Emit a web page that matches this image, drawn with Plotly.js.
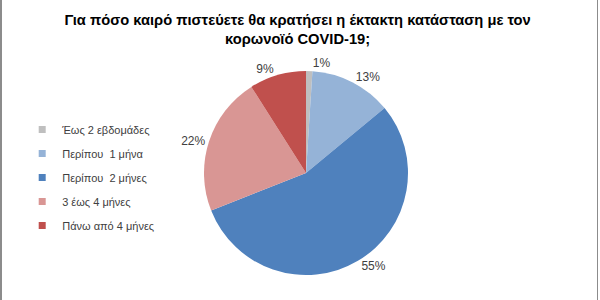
<!DOCTYPE html>
<html><head><meta charset="utf-8">
<script src="https://cdn.plot.ly/plotly-3.0.1.min.js"></script>
<style>
html,body{margin:0;padding:0;background:#fff;}
#wrap{position:relative;width:600px;height:300px;overflow:hidden;}
#chart{width:600px;height:300px;}
#bl{position:absolute;left:0;top:0;width:2px;height:300px;background:#8c8c8c;}
#br{position:absolute;left:597px;top:0;width:1px;height:300px;background:#8c8c8c;}
</style></head>
<body><div id="wrap"><div id="chart"></div><div id="bl"></div><div id="br"></div></div>
<script>
const titleText = "Για πόσο καιρό πιστεύετε θα κρατήσει η έκτακτη κατάσταση με τον<br>κορωνοϊό COVID-19;";
const labels = ["Έως 2 εβδομάδες", "Περίπου  1 μήνα", "Περίπου  2 μήνες", "3 έως 4 μήνες", "Πάνω από 4 μήνες"];
const values = [1, 13, 55, 22, 9];
const colors = ["#BFBFBF", "#95B3D7", "#4F81BD", "#D99694", "#C0504D"];

const pie = {
  type: "pie", labels: labels, values: values, sort: false, direction: "clockwise", rotation: 0,
  marker: {colors: colors, line: {color: "#ffffff", width: 0}},
  textinfo: "percent", textposition: "outside",
  outsidetextfont: {family: "Liberation Sans, Arial, sans-serif", size: 12, color: "#404040"},
  showlegend: false, hoverinfo: "label+percent",
  domain: {x: [0.34, 0.68], y: [0.0833, 0.7633]}
};
const legendTraces = labels.map((l, i) => ({
  type: "scatter", mode: "markers", x: [null], y: [null], name: l,
  marker: {symbol: "square", size: 7, color: colors[i]},
  legendgroup: "g" + i, showlegend: true, hoverinfo: "skip"
}));

const layout = {
  width: 600, height: 300, margin: {l: 0, r: 0, t: 0, b: 0},
  paper_bgcolor: "#ffffff", plot_bgcolor: "#ffffff",
  font: {family: "Liberation Sans, Arial, sans-serif", color: "#404040"},
  title: {text: titleText, x: 0.496, xanchor: "center", y: 0.917, yref: "container", yanchor: "middle",
          font: {family: "Liberation Sans, Arial, sans-serif", size: 14.7, color: "#000000", weight: "bold"}},
  xaxis: {visible: false}, yaxis: {visible: false},
  showlegend: true,
  legend: {x: 0.037, xanchor: "left", y: 0.617, yanchor: "top", tracegroupgap: 5,
           font: {size: 11, color: "#404040"}, itemwidth: 30, bgcolor: "rgba(0,0,0,0)"}
};
Plotly.newPlot("chart", [pie].concat(legendTraces), layout, {displayModeBar: false, staticPlot: true}).then(() => {
  document.querySelectorAll("#chart path.textline").forEach(p => p.style.display = "none");
});
</script></body></html>
